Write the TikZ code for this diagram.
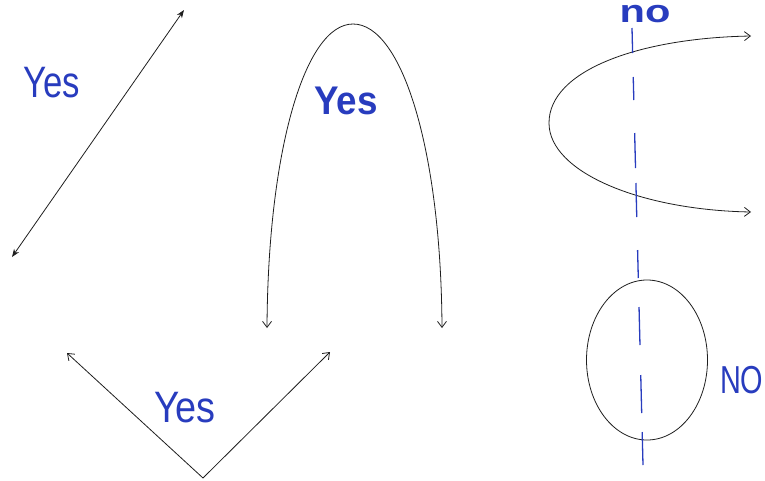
\documentclass[tikz,border=0pt]{standalone}
\usepackage{fontspec}
\setmainfont{Liberation Sans}
\usetikzlibrary{arrows.meta}
\definecolor{pen}{RGB}{40,60,190}
\definecolor{ink}{RGB}{30,30,30}
\tikzset{
  curve/.style={draw=ink, line width=0.8pt},
  openhead/.style={-{Straight Barb[length=6pt,width=9pt]}},
  solidhead/.style={{Stealth[length=8pt,width=6pt]}-{Stealth[length=8pt,width=6pt]}},
  hand/.style={text=pen, inner sep=0pt, font=\fontsize{44}{44}\selectfont},
  pendash/.style={draw=pen, line width=1.3pt},
}
\begin{document}
\begin{tikzpicture}[x=1pt,y=-1pt]
\useasboundingbox (0,0) rectangle (765,480);
% double arrow line
\coordinate (d1) at (12,257);
\coordinate (d2) at (184,10);
\draw[curve, solidhead] (d1) -- (d2);
\node[hand, xscale=0.79, anchor=base] (y1) at (52,97) {Yes};
% arch
\coordinate (a1) at (267,328);
\coordinate (ap) at (353,24);
\coordinate (a2) at (442,328);
\draw[curve, openhead] (ap) .. controls (305,24) and (268,150) .. (a1);
\draw[curve, openhead] (ap) .. controls (402,24) and (441,150) .. (a2);
\node[hand, xscale=0.92, anchor=base, font=\fontsize{40}{40}\selectfont\bfseries] (y2) at (346,114) {Yes};
% V
\coordinate (v0) at (203,478);
\coordinate (v1) at (67,353);
\coordinate (v2) at (330,352);
\draw[curve, openhead] (v0) -- (v1);
\draw[curve, openhead] (v0) -- (v2);
\node[hand, xscale=0.86, anchor=base] (y3) at (185,422) {Yes};
% C curve
\coordinate (c1) at (751,36);
\coordinate (cm) at (549,123);
\coordinate (c2) at (751,212);
\draw[curve, openhead] (cm) .. controls (549,70) and (640,38) .. (c1);
\draw[curve, openhead] (cm) .. controls (549,172) and (640,210) .. (c2);
% ellipse
\coordinate (e) at (647,360);
\draw[curve] (e) ellipse [x radius=60.5, y radius=80];
% dashed vertical line
\foreach \a/\b in {28/53,77/100,133/168,183/217,250/278,307/345,375/413,432/465}{
  \draw[pendash] ({632+11*(\a-28)/437},\a) -- ({632+11*(\b-28)/437},\b);
}
\node[hand, anchor=base, xscale=1.3, text height=18pt, text depth=0pt, font=\fontsize{32}{32}\selectfont\bfseries] (n1) at (645,22) {no};
\node[hand, anchor=base west, xscale=0.74, font=\fontsize{39}{39}\selectfont] (n2) at (720,393) {NO};
\end{tikzpicture}
\end{document}
